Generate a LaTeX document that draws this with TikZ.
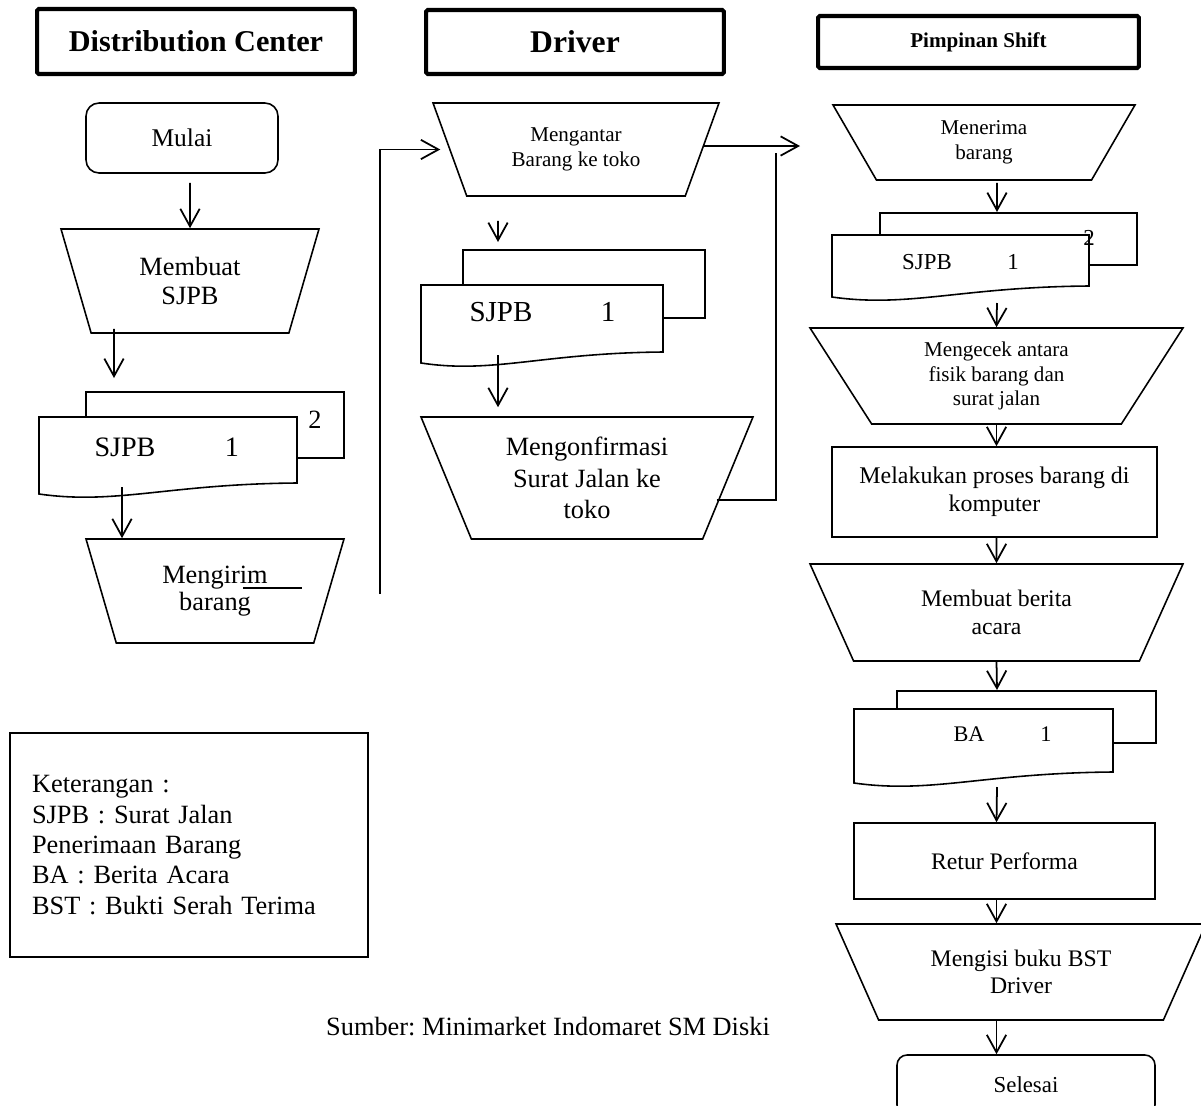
\documentclass[tikz,border=0pt]{standalone}
\usepackage{fontspec}
\setmainfont{Liberation Serif}
\frenchspacing
\usepackage{tikz}
\usetikzlibrary{shapes.geometric,arrows.meta,calc,fit}
\newcommand{\fs}[2]{\fontsize{#1}{#2}\selectfont}
\tikzset{%
    lane/.style={draw, line width=2.3pt, rounded corners=1pt},
    terminal/.style={draw, line width=0.9pt, rounded corners=0.26cm, align=center},
    process/.style={draw, line width=0.9pt, align=center},
    manual/.style={draw, line width=0.9pt, trapezium, shape border rotate=180,
        trapezium stretches body, trapezium left angle=#1, trapezium right angle=#1,
        align=center},
    flow/.style={-{Straight Barb[length=10pt,width=11pt]}, line width=1pt},
    link/.style={line width=1pt},
    sheet/.style={line width=0.9pt}
}
% stacked document: name, left, top, right, bottom, back shift, back top, back bottom
\newcommand{\docstack}[8]{%
    \draw[sheet] (#2+#6,#3) -- (#2+#6,#7) -- (#4+#6,#7) -- (#4+#6,#8) -- (#4,#8);
    \draw[sheet,fill=white] (#2,#3) -- (#4,#3) -- (#4,#5)
        .. controls ({#4-0.5*(#4-#2)},#5+1) and ({#2+0.3*(#4-#2)},#5+22) .. (#2,#5+11) -- cycle;
    \node[fit={(#2,#3) (#4,#5)}, inner sep=0pt, outer sep=0pt] (#1) {};
}

\begin{document}
\begin{tikzpicture}[x=0.02cm,y=-0.02cm]
\useasboundingbox (0,0) rectangle (1201,1106);
%-----------------------------------------------
    \node[lane, minimum width=6.36cm, minimum height=1.30cm, font=\bfseries\fs{17.2}{20}] (hdrDC) at (196,41.5) {Distribution Center};
    \node[lane, minimum width=5.96cm, minimum height=1.28cm, font=\bfseries\fs{18}{20}] (hdrDrv) at (575,42) {Driver};
    \node[lane, minimum width=6.42cm, minimum height=1.04cm, font=\bfseries\fs{12}{14}] (hdrPim) at (978.5,42) {Pimpinan Shift};
%-----------------------------------------------
    \node[terminal, minimum width=3.84cm, minimum height=1.40cm, font=\fs{14.5}{17}] (mulai) at (182,138) {Mulai};
    \node[manual=63.4, minimum width=5.16cm, minimum height=2.08cm, font=\fs{15}{17}] (dcBuat) at (190,281) {Membuat\\SJPB};
    \docstack{dcDoc}{39}{417}{297}{483}{47}{392}{458}
    \node[font=\fs{16}{18}] (dcSJPB) at (125,447) {SJPB};
    \node[font=\fs{16}{18}] (dcNo1) at (232,447) {1};
    \node[font=\fs{15}{17}] (dcNo2) at (315,420) {2};
    \node[manual=63.9, minimum width=5.16cm, minimum height=2.08cm, font=\fs{15}{15.3}] (dcKirim) at (215,591) {Mengirim\\barang};
    \draw[sheet] ($(dcKirim.center)+(28,-3)$) -- ++(59,0);
%-----------------------------------------------
    \node[manual=58.5, minimum width=5.72cm, minimum height=1.86cm, font=\fs{12}{14.2}] (drvAntar) at (576,149.5) {Mengantar\\Barang ke toko};
    \docstack{drvDoc}{421}{285}{663}{352}{42}{250}{318}
    \node[font=\fs{16.5}{19}] (drvSJPB) at (501,312) {SJPB};
    \node[font=\fs{16.5}{19}] (drvNo1) at (608,312) {1};
    \node[manual=61.6, minimum width=6.64cm, minimum height=2.44cm, font=\fs{15}{17.8}] (drvKonf) at (587,478) {Mengonfirmasi\\Surat Jalan ke\\toko};
%-----------------------------------------------
    \node[manual=51.8, minimum width=6.04cm, minimum height=1.50cm, font=\fs{12}{14.2}] (pimTerima) at (984,142.5) {Menerima\\barang};
    \docstack{pimDoc}{832}{235}{1089}{286}{48}{213}{265}
    \node[font=\fs{13}{15}] (pimSJPB) at (927,262) {SJPB};
    \node[font=\fs{13}{15}] (pimNo1) at (1013,262) {1};
    \node[font=\fs{13}{15}] (pimNo2) at (1089,238) {2};
    \node[manual=52.4, minimum width=7.46cm, minimum height=1.92cm, font=\fs{12}{14}] (pimCek) at (996.5,376) {Mengecek antara\\fisik barang dan\\surat jalan};
    \node[process, minimum width=6.50cm, minimum height=1.80cm, font=\fs{13.6}{15.9}] (pimProses) at (994.5,492) {Melakukan proses barang di\\komputer};
    \node[manual=52.3, minimum width=7.46cm, minimum height=1.94cm, font=\fs{13.5}{15.9}] (pimBA) at (996.5,612.5) {Membuat berita\\acara};
    \docstack{baDoc}{854}{709}{1113}{772}{43}{691}{743}
    \node[font=\fs{12.7}{15}] (baTxt) at (969,734) {BA};
    \node[font=\fs{12.7}{15}] (baNo1) at (1046,734) {1};
    \node[process, minimum width=6.02cm, minimum height=1.52cm, font=\fs{13.5}{15.9}] (pimRetur) at (1004.5,861) {Retur Performa};
    \node[manual=52.4, minimum width=7.40cm, minimum height=1.92cm, font=\fs{13.5}{15.3}] (pimBST) at (1021,972) {Mengisi buku BST\\Driver};
    \node[terminal, minimum width=5.16cm, minimum height=1.20cm, rounded corners=0.2cm, font=\fs{13}{15}] (selesai) at (1026,1085) {Selesai};
%-----------------------------------------------
    \node[process, minimum width=7.16cm, minimum height=4.48cm, text width=6.28cm, inner xsep=0.44cm, align=left, font=\fs{15}{17.3}] (ket) at (189,845) {Keterangan :\\SJPB : Surat Jalan\\Penerimaan Barang\\BA : Berita Acara\\BST : Bukti Serah Terima};
    \node[font=\fs{15}{17}] (sumber) at (548,1027) {Sumber: Minimarket Indomaret SM Diski};
%-----------------------------------------------
    \coordinate (dcBack) at (380,594);
    \coordinate (toPim) at (800,146);
    \coordinate (loopTop) at (776,153);
    \draw[flow] ($(mulai.south)+(8,9)$) -- (dcBuat.north);
    \draw[flow] ($(dcBuat.south)+(-76,-5)$) -- ($(dcDoc.north west)+(75,-39)$);
    \draw[flow] ($(dcDoc.north west)+(83,70)$) -- ($(dcKirim.north)+(-93,0)$);
    \draw[flow, shorten >=5pt] (dcBack) |- (drvAntar.west);
    \draw[flow] ($(drvAntar.south)+(-78,24)$) -- ($(drvDoc.north west)+(77,-43)$);
    \draw[flow] ($(drvDoc.north west)+(77,70)$) -- ($(drvKonf.north)+(-89,-9)$);
    \draw[flow] (drvAntar.east |- toPim) -- (toPim);
    \draw[link] ($(drvKonf.east)+(-12,22)$) -| (loopTop);
    \draw[flow] ($(pimTerima.south)+(13,2)$) -- ($(pimDoc.north west)+(165,-23)$);
    \draw[flow] ($(pimDoc.north west)+(165,68)$) -- (pimCek.north);
    \draw[flow] (pimCek.south) -- (pimCek.south |- pimProses.north);
    \draw[flow] (pimProses.south -| pimCek.south) -- (pimBA.north);
    \draw[flow] (pimBA.south) -- ($(baDoc.north west)+(143,-19)$);
    \draw[flow] ($(baDoc.north west)+(143,78)$) -- (pimRetur.north -| pimBA.south);
    \draw[flow] (pimRetur.south -| pimBA.south) -- (pimBST.north -| pimBA.south);
    \draw[flow] (pimBST.south -| pimBA.south) -- (selesai.north -| pimBA.south);
\end{tikzpicture}
\end{document}
